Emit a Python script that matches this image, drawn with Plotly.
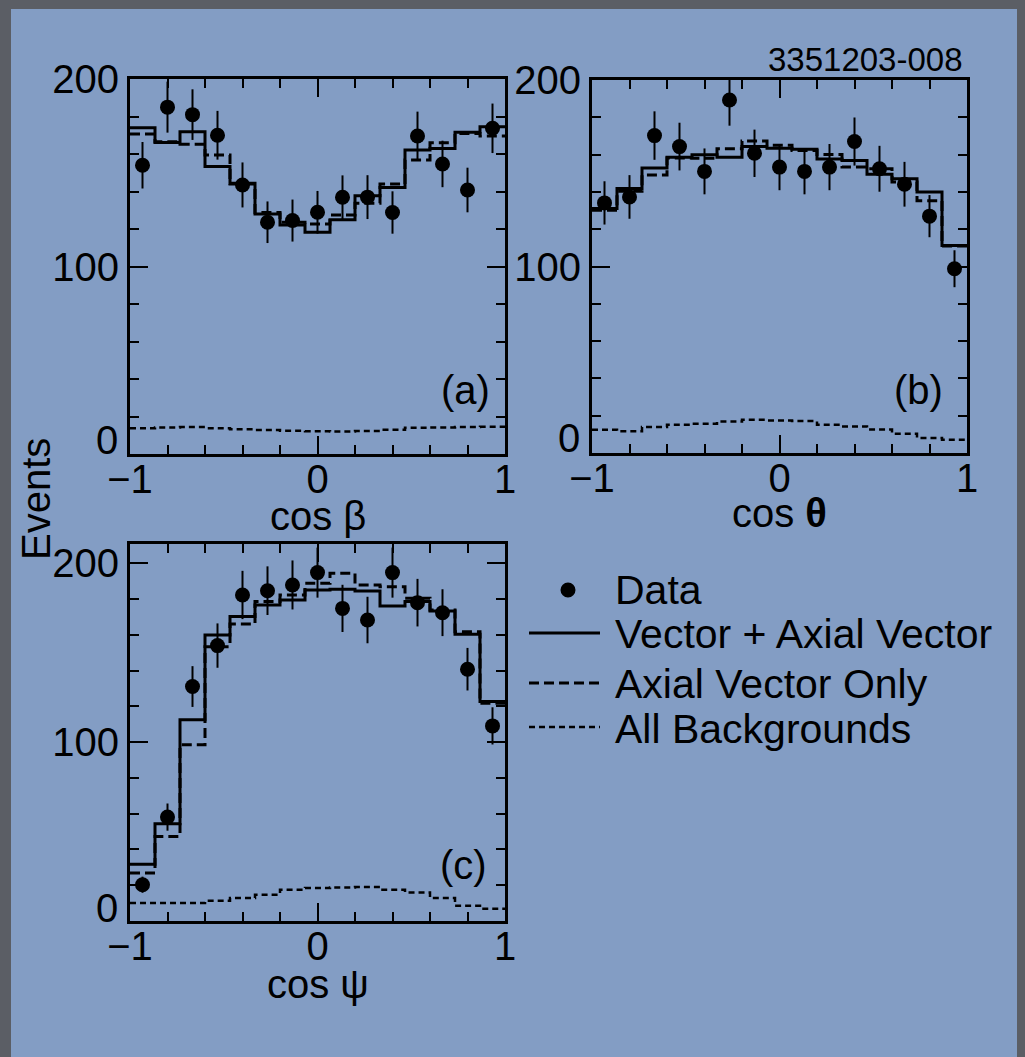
import numpy as np
import plotly.graph_objects as go

# ---------------- data ----------------
bin_edges = list(np.linspace(-1, 1, 16))
bin_centers = [(bin_edges[i] + bin_edges[i + 1]) / 2 for i in range(15)]

# (a) cos beta
a_data = [154, 185, 181, 170, 143.5, 123.6, 124.5, 128.9, 136.9, 137, 128.8, 169.6, 154.7, 140.8, 173.7]
a_err = [12.4, 13.6, 13.5, 13.0, 12.0, 11.1, 11.2, 11.4, 11.7, 11.7, 11.3, 13.0, 12.4, 11.9, 13.2]
a_va = [174.0, 166.2, 171.9, 153.3, 144.4, 128.0, 122.2, 118.3, 124.9, 137.8, 142.1, 162.1, 163.0, 171.6, 174.6]
a_av = [170.7, 166.6, 165.2, 159.5, 144.0, 128.8, 123.6, 122.7, 127.5, 133.7, 144.0, 156.8, 166.0, 171.0, 169.6]
a_bkg = [13.8, 14.2, 14.4, 13.8, 13.2, 12.8, 12.4, 12.2, 12.0, 12.3, 13.0, 14.0, 14.2, 14.4, 14.5]

# (b) cos theta
b_data = [134.1, 137.3, 170.2, 164.3, 151.0, 189.3, 160.7, 153.3, 151.0, 153.3, 167.0, 152.4, 144.1, 127.0, 98.8]
b_err = [11.6, 11.7, 13.0, 12.8, 12.3, 13.8, 12.7, 12.4, 12.3, 12.4, 12.9, 12.3, 12.0, 11.3, 9.9]
b_va = [131.1, 141.8, 152.8, 158.6, 159.9, 158.6, 164.3, 163.4, 162.9, 157.7, 156.8, 149.4, 147.1, 140.0, 111.2]
b_av = [130.2, 140.3, 149.0, 158.2, 158.0, 163.1, 167.3, 165.0, 162.2, 160.0, 153.3, 152.4, 145.3, 135.2, 111.0]
b_bkg = [12.5, 11.6, 13.9, 15.1, 15.7, 16.9, 17.8, 17.4, 17.1, 15.1, 14.2, 12.6, 10.3, 8.0, 7.1]

# (c) cos psi
c_data = [20.3, 58.1, 131.1, 154.0, 182.3, 184.7, 187.9, 194.8, 174.8, 168.3, 194.8, 178.0, 172.4, 140.8, 109.1]
c_err = [4.5, 7.6, 11.4, 12.4, 13.5, 13.6, 13.7, 14.0, 13.2, 13.0, 14.0, 13.3, 13.1, 11.9, 10.4]
c_va = [31.8, 54.4, 112.5, 159.9, 170.2, 176.7, 179.5, 185.1, 185.5, 184.5, 176.1, 178.6, 173.4, 160.3, 122.7]
c_av = [26.8, 47.3, 98.5, 153.4, 166.1, 178.6, 182.3, 188.8, 194.4, 187.9, 186.9, 180.4, 173.9, 161.8, 121.8]
c_bkg = [10.0, 10.0, 10.0, 11.3, 12.8, 14.7, 17.5, 18.4, 18.8, 19.0, 17.5, 16.0, 12.8, 8.5, 6.9]

y_tickvals = [0, 100, 200]
y_ticktext = ["0", "100", "200"]
x_tickvals = [-1, 0, 1]

panels = [
    ("x", "y", a_data, a_err, a_va, a_av, a_bkg),
    ("x2", "y2", b_data, b_err, b_va, b_av, b_bkg),
    ("x3", "y3", c_data, c_err, c_va, c_av, c_bkg),
]

legend_labels = ["Data", "Vector + Axial Vector", "Axial Vector Only", "All Backgrounds"]

# page offset (the page body places the figure 8px in from the top-left)
OFF = 8
W, H = 1025 - OFF, 1057 - OFF
FONT = "Liberation Sans, Arial, Helvetica, sans-serif"
BLUE = "#839dc4"
GRAY = "#5b5e65"


def px(x):
    return (x - OFF) / W


def py(y):
    return 1 - (y - OFF) / H


fig = go.Figure()


def step_xy(vals):
    xs = bin_edges[:-1] + [bin_edges[-1]]
    ys = list(vals) + [vals[-1]]
    return xs, ys


for xa, ya, dat, err, va, av, bkg in panels:
    for vals, dash, w in [(bkg, "6px,4px", 2.5), (av, "10px,5px", 3), (va, "solid", 3)]:
        xs, ys = step_xy(vals)
        fig.add_trace(go.Scatter(x=xs, y=ys, xaxis=xa, yaxis=ya, mode="lines",
                                 line=dict(shape="hv", color="black", width=w, dash=dash),
                                 showlegend=False, hoverinfo="skip"))
    fig.add_trace(go.Scatter(x=bin_centers, y=dat, xaxis=xa, yaxis=ya, mode="markers",
                             marker=dict(color="black", size=15),
                             error_y=dict(type="data", array=err, visible=True, color="black",
                                          thickness=2, width=0),
                             showlegend=False))

tickfont = dict(family=FONT, size=40, color="black")
axis_common = dict(
    showline=True, linecolor="black", linewidth=3, mirror="ticks",
    ticks="inside", ticklen=18, tickwidth=2, tickcolor="black",
    showgrid=False, zeroline=False, automargin=False, tickfont=tickfont,
)
xminor = dict(dtick=0.2, ticks="inside", ticklen=9, tickwidth=2, tickcolor="black", showgrid=False)
yminor = dict(dtick=20, ticks="inside", ticklen=9, tickwidth=2, tickcolor="black", showgrid=False)

xdom_l = [px(130), px(505)]
xdom_r = [px(592), px(967)]
xtick = dict(range=[-1, 1], tickvals=x_tickvals, minor=xminor, ticklabelstandoff=-12)
# axis labels for 100 and 200; the "0" label is raised above the x axis (ROOT style) below
ytick = dict(tickvals=y_tickvals, ticktext=[""] + y_ticktext[1:], minor=yminor)

fig.update_layout(
    template="none",
    width=W, height=H,
    margin=dict(l=0, r=0, t=0, b=0, pad=0),
    paper_bgcolor=GRAY, plot_bgcolor="rgba(0,0,0,0)",
    showlegend=False,
    xaxis=dict(domain=xdom_l, anchor="y", **xtick, **axis_common),
    yaxis=dict(domain=[py(454), py(79)], range=[0, 200], anchor="x", **ytick, **axis_common),
    xaxis2=dict(domain=xdom_r, anchor="y2", **xtick, **axis_common),
    yaxis2=dict(domain=[py(453), py(80)], range=[0, 200], anchor="x2", **ytick, **axis_common),
    xaxis3=dict(domain=xdom_l, anchor="y3", **xtick, **axis_common),
    yaxis3=dict(domain=[py(921), py(544)], range=[0, 210.8], anchor="x3", **ytick, **axis_common),
)

shapes = [
    dict(type="rect", xref="paper", yref="paper", x0=px(11), x1=1, y0=0, y1=py(9),
         fillcolor=BLUE, line=dict(width=0), layer="below"),
]
# legend samples
shapes.append(dict(type="circle", xref="paper", yref="paper",
                   x0=px(560.5), x1=px(575.5), y0=py(597.5), y1=py(582.5),
                   fillcolor="black", line=dict(width=0)))
for ypos, dash, w in [(633, "solid", 3), (683, "10px,5px", 3), (727, "6px,4px", 2.5)]:
    shapes.append(dict(type="line", xref="paper", yref="paper",
                       x0=px(529), x1=px(600), y0=py(ypos), y1=py(ypos),
                       line=dict(color="black", width=w, dash=dash)))
fig.update_layout(shapes=shapes)

ann = []


def add_text(text, x, y, size=40, xanchor="center", textangle=0):
    ann.append(dict(text=text, x=px(x), y=py(y), xref="paper", yref="paper",
                    showarrow=False, xanchor=xanchor, yanchor="middle", textangle=textangle,
                    font=dict(family=FONT, size=size, color="black")))


add_text("cos β", 318, 516)
add_text("cos <b>θ</b>", 779, 513)
add_text("cos ψ", 318, 984)
add_text("Events", 36, 499, textangle=-90)
add_text("(a)", 465, 390)
add_text("(b)", 918, 390)
add_text("(c)", 463, 865)
add_text("3351203-008", 865, 60, size=33)
for lab, ypos in zip(legend_labels, [590, 634, 684, 729]):
    add_text(lab, 613, ypos, size=41, xanchor="left")
# raised "0" y-axis labels
for xr, yc in [(120, 440), (582, 438), (120, 908)]:
    add_text(y_ticktext[0], xr, yc, xanchor="right")
fig.update_layout(annotations=ann)

fig.write_html("out.html", post_script="document.body.style.background='%s';" % GRAY)
